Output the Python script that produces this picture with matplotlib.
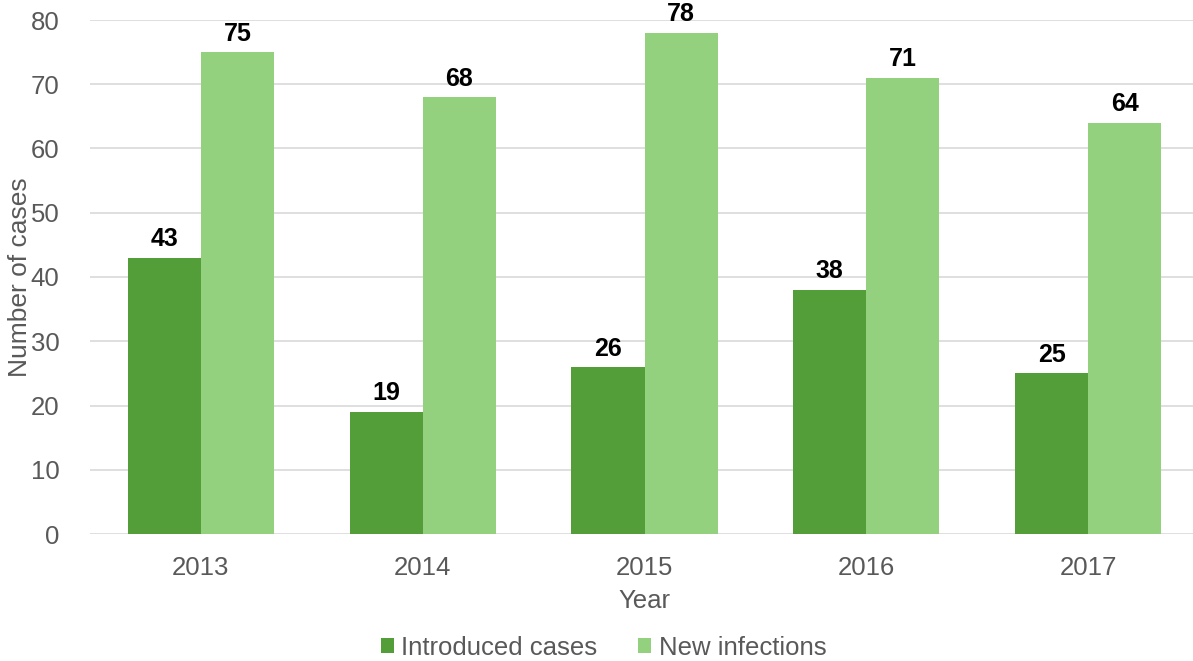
import matplotlib
matplotlib.use("Agg")
import matplotlib.pyplot as plt
import numpy as np

years = ["2013", "2014", "2015", "2016", "2017"]
introduced = [43, 19, 26, 38, 25]
new_infections = [75, 68, 78, 71, 64]

dark = "#549e39"
light = "#93d17e"
grey = "#595959"

plt.rcParams['font.family'] = ['Liberation Sans', 'DejaVu Sans']

fig = plt.figure(figsize=(11.93, 6.61), dpi=100)
ax = fig.add_axes([90 / 1193, 127 / 661, 1109 / 1193, 514 / 661])

x = np.arange(len(years))
w = 0.33
b1 = ax.bar(x - w / 2, introduced, w, color=dark, label="Introduced cases", zorder=2)
b2 = ax.bar(x + w / 2, new_infections, w, color=light, label="New infections", zorder=2)

# value labels above each bar
for bars in (b1, b2):
    for r in bars:
        ax.text(r.get_x() + r.get_width() / 2, r.get_height() + 1.0, f"{int(r.get_height())}",
                ha="center", va="bottom", fontsize=18, fontweight="bold", color="black")

ax.set_xlim(-0.5, 4.5)
ax.set_ylim(0, 80)
ax.set_yticks(range(0, 81, 10))
ax.set_xticks(x)
ax.set_xticklabels(years)
ax.grid(axis="y", color="#d9d9d9", linewidth=1.2, zorder=0)
for s in ax.spines.values():
    s.set_visible(False)
ax.tick_params(axis="both", length=0, labelsize=18.5, labelcolor=grey)
ax.tick_params(axis="x", pad=16)
ax.tick_params(axis="y", pad=22)

ax.set_xlabel("Year", fontsize=18.5, color=grey, labelpad=6)
ax.set_ylabel("Number of cases", fontsize=19, color=grey)
ax.yaxis.set_label_coords(-0.052, 0.5)

fig.legend(handles=[b1, b2], loc="lower center", bbox_to_anchor=(0.506, -0.033), ncol=2,
           frameon=False, fontsize=18.5, labelcolor=grey, handlelength=0.5, handleheight=0.5,
           handletextpad=0.3, columnspacing=1.6)

fig.savefig("out.png", dpi=100)
